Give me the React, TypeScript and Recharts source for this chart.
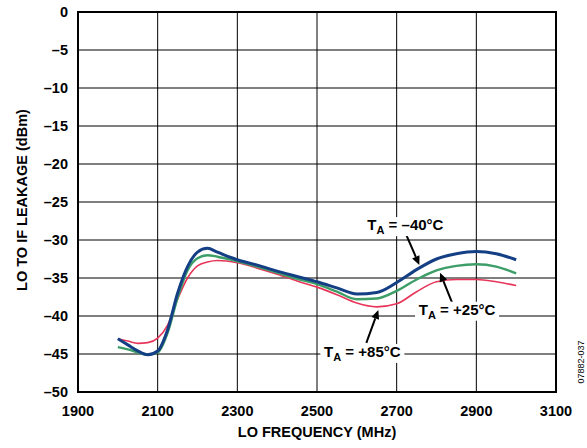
import React from 'react';
import {
  LineChart,
  Line,
  XAxis,
  YAxis,
  CartesianGrid,
  ReferenceArea,
  ReferenceDot,
} from 'recharts';

const freqs = [
  2000, 2025, 2050, 2075, 2100, 2125, 2150, 2175, 2200, 2225, 2250, 2300, 2350,
  2400, 2450, 2500, 2550, 2600, 2650, 2700, 2750, 2800, 2850, 2900, 2950, 3000,
];
const leakMinus40 = [
  -43.0, -43.8, -44.6, -45.1, -44.6, -41.8, -37.0, -33.5, -31.6, -31.1, -31.6, -32.6, -33.3,
  -34.1, -34.8, -35.5, -36.3, -37.1, -36.9, -35.6, -33.9, -32.5, -31.8, -31.5, -31.8, -32.6,
];
const leakPlus25 = [
  -44.1, -44.4, -44.8, -45.1, -44.8, -42.2, -37.6, -34.0, -32.4, -32.0, -32.2, -32.8, -33.5,
  -34.3, -35.1, -35.8, -36.8, -37.8, -37.7, -36.7, -35.2, -34.0, -33.4, -33.2, -33.5, -34.4,
];
const leakPlus85 = [
  -43.0, -43.3, -43.6, -43.5, -42.9, -41.2, -37.8, -35.0, -33.4, -32.9, -32.7, -33.0, -33.7,
  -34.5, -35.4, -36.2, -37.2, -38.3, -38.8, -38.4, -36.8, -35.5, -35.2, -35.2, -35.5, -36.0,
];
const xTicks = [1900, 2100, 2300, 2500, 2700, 2900, 3100];
const yTicks = [0, -5, -10, -15, -20, -25, -30, -35, -40, -45, -50];

const data = freqs.map((f, i) => ({
  freq: f,
  m40: leakMinus40[i],
  p25: leakPlus25[i],
  p85: leakPlus85[i],
}));

const FONT = 'Arial, "Liberation Sans", Helvetica, sans-serif';

const fmtY = (v: number) => (v < 0 ? '\u2013' + Math.abs(v) : String(v));

const gridLine: any = { shapeRendering: 'crispEdges' };

// arrow tip sits on the curve, label is offset in pixels
function makeCallout(temp: string, tail: [number, number], label: [number, number], boxW: number) {
  return (props: any) => {
    const { cx, cy } = props;
    const tx = cx + tail[0];
    const ty = cy + tail[1];
    const dx = cx - tx;
    const dy = cy - ty;
    const len = Math.sqrt(dx * dx + dy * dy);
    const ux = dx / len;
    const uy = dy / len;
    const headLen = 9;
    const headW = 4;
    const bx = cx - ux * headLen;
    const by = cy - uy * headLen;
    const lx = cx + label[0];
    const ly = cy + label[1];
    return (
      <g>
        <line x1={tx} y1={ty} x2={bx} y2={by} stroke="#000" strokeWidth={2} />
        <polygon
          points={`${cx},${cy} ${bx - uy * headW},${by + ux * headW} ${bx + uy * headW},${by - ux * headW}`}
          fill="#000"
        />
        <rect x={lx - boxW / 2} y={ly - 13} width={boxW} height={19} fill="#fff" />
        <text
          x={lx}
          y={ly}
          textAnchor="middle"
          fontFamily={FONT}
          fontWeight="bold"
          fontSize={15}
          fill="#000"
        >
          T
          <tspan fontSize={11} dy={4}>A</tspan>
          <tspan dy={-4}>{` = ${temp}°C`}</tspan>
        </text>
      </g>
    );
  };
}

export default function App() {
  return (
    <div style={{ position: 'absolute', left: 0, top: 0, width: 587, height: 448, background: '#fff' }}>
      <LineChart
        width={587}
        height={448}
        data={data}
        margin={{ top: 12, right: 31, left: 0, bottom: 26 }}
      >
        <CartesianGrid stroke="#000" strokeWidth={1} horizontal={gridLine} vertical={gridLine} />
        <XAxis
          dataKey="freq"
          type="number"
          domain={[1900, 3100]}
          ticks={xTicks}
          axisLine={false}
          tickLine={false}
          tickSize={0}
          tickMargin={14}
          height={30}
          tick={{ fill: '#000', fontSize: 14.5, fontWeight: 'bold', fontFamily: FONT }}
        />
        <YAxis
          type="number"
          domain={[-50, 0]}
          ticks={yTicks}
          tickFormatter={fmtY}
          axisLine={false}
          tickLine={false}
          tickSize={0}
          tickMargin={10}
          width={78}
          tick={{ fill: '#000', fontSize: 14.5, fontWeight: 'bold', fontFamily: FONT }}
        />
        <ReferenceArea x1={1900} x2={3100} y1={-50} y2={0} fill="none" stroke="#000" strokeWidth={2} />
        <Line
          dataKey="p85"
          type="monotone"
          stroke="#E8365A"
          strokeWidth={1.6}
          dot={false}
          isAnimationActive={false}
        />
        <Line
          dataKey="p25"
          type="monotone"
          stroke="#3E9E68"
          strokeWidth={2.4}
          dot={false}
          isAnimationActive={false}
        />
        <Line
          dataKey="m40"
          type="monotone"
          stroke="#143F85"
          strokeWidth={3}
          dot={false}
          isAnimationActive={false}
        />
        <ReferenceDot x={2757} y={-33.3} shape={makeCallout('\u201340', [-13, -30], [-14, -35], 84)} />
        <ReferenceDot x={2809} y={-34.3} shape={makeCallout('+25', [12, 30], [17, 42], 84)} />
        <ReferenceDot x={2654} y={-39.2} shape={makeCallout('+85', [-12, 33], [-16, 47], 84)} />
      </LineChart>
      <div
        style={{
          position: 'absolute',
          left: 78,
          width: 478,
          top: 424,
          textAlign: 'center',
          fontFamily: FONT,
          fontWeight: 'bold',
          fontSize: 14.5,
        }}
      >
        LO FREQUENCY (MHz)
      </div>
      <div
        style={{
          position: 'absolute',
          left: 21.5,
          top: 200,
          transform: 'translate(-50%, -50%) rotate(-90deg)',
          whiteSpace: 'nowrap',
          fontFamily: FONT,
          fontWeight: 'bold',
          fontSize: 14.5,
        }}
      >
        LO TO IF LEAKAGE (dBm)
      </div>
      <div
        style={{
          position: 'absolute',
          left: 581,
          top: 362,
          transform: 'translate(-50%, -50%) rotate(-90deg)',
          whiteSpace: 'nowrap',
          fontFamily: FONT,
          fontSize: 9,
        }}
      >
        07882-037
      </div>
    </div>
  );
}
